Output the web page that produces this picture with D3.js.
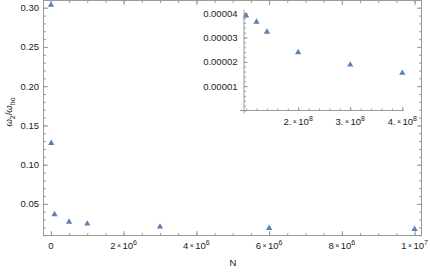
<!DOCTYPE html>
<html><head><meta charset="utf-8">
<script src="https://cdn.jsdelivr.net/npm/d3@7"></script>
<style>
body{margin:0;background:#fff;}
svg{display:block;font-family:"Liberation Sans",Arial,sans-serif;}
.ax path,.ax line{stroke:#9a9a9a;stroke-width:1;}
.ax text{display:none;}
</style></head><body>
<svg id="c" width="430" height="274"></svg>
<script>
// main data
const mainN = [1000, 10000, 100000, 500000, 1000000, 3000000, 6000000, 10000000];
const mainW = [0.3034, 0.1275, 0.0365, 0.0271, 0.0246, 0.0208, 0.0191, 0.0178];
const mainXTicks = [0, 2e6, 4e6, 6e6, 8e6, 1e7];
const mainXLabels = [["0","",""],["2","10","6"],["4","10","6"],["6","10","6"],["8","10","6"],["1","10","7"]];
const mainYTicks = [0.05, 0.10, 0.15, 0.20, 0.25, 0.30];
const mainYLabels = ["0.05","0.10","0.15","0.20","0.25","0.30"];
// inset data
const insetN = [1e8, 1.2e8, 1.4e8, 2e8, 3e8, 4e8];
const insetW = [3.90e-5, 3.64e-5, 3.23e-5, 2.39e-5, 1.88e-5, 1.54e-5];
const insetXTicks = [2e8, 3e8, 4e8];
const insetXLabels = [["2.","10","8"],["3.","10","8"],["4.","10","8"]];
const insetYTicks = [1e-5, 2e-5, 3e-5, 4e-5];
const insetYLabels = ["0.00001","0.00002","0.00003","0.00004"];

const color = "#5e81b5";
const txt = "#222";
const svg = d3.select("#c");

// main scales
const L=43.5, R=421.5, T=0.5, B=235.5;
const x = d3.scaleLinear().domain([-0.2035e6, 10.19e6]).range([L, R]);
const y = d3.scaleLinear().domain([0.0097, 0.3092]).range([B, T]);

const minorX = d3.range(0, 10.01e6, 0.5e6);
const minorY = d3.range(0.01, 0.3001, 0.01);

function ax(g, axis){ g.attr("class","ax").call(axis); g.select(".domain").remove(); }

// frame
svg.append("rect").attr("x",L).attr("y",T).attr("width",R-L).attr("height",B-T)
  .attr("fill","none").attr("stroke","#9a9a9a");

ax(svg.append("g").attr("transform",`translate(0,${B})`), d3.axisBottom(x).tickValues(minorX).tickSize(-2.5).tickFormat(""));
ax(svg.append("g").attr("transform",`translate(0,${B})`), d3.axisBottom(x).tickValues(mainXTicks).tickSize(-4.5).tickFormat(""));
ax(svg.append("g").attr("transform",`translate(0,${T})`), d3.axisTop(x).tickValues(minorX).tickSize(-2.5).tickFormat(""));
ax(svg.append("g").attr("transform",`translate(0,${T})`), d3.axisTop(x).tickValues(mainXTicks).tickSize(-4.5).tickFormat(""));
ax(svg.append("g").attr("transform",`translate(${L},0)`), d3.axisLeft(y).tickValues(minorY).tickSize(-2.5).tickFormat(""));
ax(svg.append("g").attr("transform",`translate(${L},0)`), d3.axisLeft(y).tickValues(mainYTicks).tickSize(-4.5).tickFormat(""));
ax(svg.append("g").attr("transform",`translate(${R},0)`), d3.axisRight(y).tickValues(minorY).tickSize(-2.5).tickFormat(""));
ax(svg.append("g").attr("transform",`translate(${R},0)`), d3.axisRight(y).tickValues(mainYTicks).tickSize(-4.5).tickFormat(""));

function sciLabel(sel, labels){
  sel.append("tspan").text((d,i)=>labels[i][0]);
  sel.append("tspan").attr("font-size",7).attr("dy",-0.5)
    .text((d,i)=>labels[i][1] ? "\u2009\u00d7\u2009" : "");
  sel.append("tspan").attr("dy",0.5).text((d,i)=>labels[i][1]);
  sel.append("tspan").attr("font-size",7).attr("dy",-4).text((d,i)=>labels[i][2]);
}

svg.append("g").selectAll("text").data(mainYTicks).join("text")
  .attr("x", L-4.5).attr("y", d=>y(d)+3.4).attr("text-anchor","end")
  .attr("font-size",9.5).attr("fill",txt).text((d,i)=>mainYLabels[i]);
const xl = svg.append("g").selectAll("text").data(mainXTicks).join("text")
  .attr("x", d=>x(d)).attr("y", 248.5).attr("text-anchor","middle")
  .attr("font-size",9.5).attr("fill",txt);
sciLabel(xl, mainXLabels);

svg.append("text").attr("x",233).attr("y",266).attr("text-anchor","middle")
  .attr("font-size",9.5).attr("fill",txt).text("N");
const yt = svg.append("text").attr("transform","translate(12,112) rotate(-90)")
  .attr("text-anchor","middle").attr("font-size",9.5).attr("fill",txt);
yt.append("tspan").attr("font-style","italic").text("\u03c9");
yt.append("tspan").attr("font-size",7).attr("dy",2.5).text("2");
yt.append("tspan").attr("dy",-2.5).text("/");
yt.append("tspan").attr("font-style","italic").text("\u03c9");
yt.append("tspan").attr("font-size",7).attr("dy",2.5).text("ho");

const tri = d3.symbol().type(d3.symbolTriangle).size(17);
svg.append("g").selectAll("path").data(mainN).join("path")
  .attr("d", tri).attr("fill", color)
  .attr("transform",(d,i)=>`translate(${x(d)},${y(mainW[i])})`);

// inset
const iL=244, iR=403.5, iT=10, iB=110.5;
const ix = d3.scaleLinear().domain([0.9596e8, 4.0231e8]).range([iL, iR]);
const iy = d3.scaleLinear().domain([0, 4.13e-5]).range([iB, iT]);
const iMinorX = d3.range(1e8, 4.01e8, 0.2e8);
const iMinorY = d3.range(0, 4.11e-5, 0.2e-5);

const gx = svg.append("g").attr("class","ax");
gx.append("line").attr("x1",iL-4).attr("x2",iR).attr("y1",iB).attr("y2",iB);
gx.append("line").attr("x1",iL).attr("x2",iL).attr("y1",iB+3).attr("y2",iT);
ax(svg.append("g").attr("transform",`translate(0,${iB})`), d3.axisBottom(ix).tickValues(iMinorX).tickSize(-2).tickFormat(""));
ax(svg.append("g").attr("transform",`translate(0,${iB})`), d3.axisBottom(ix).tickValues(insetXTicks).tickSize(-3.5).tickFormat(""));
ax(svg.append("g").attr("transform",`translate(${iL},0)`), d3.axisLeft(iy).tickValues(iMinorY).tickSize(-2).tickFormat(""));
ax(svg.append("g").attr("transform",`translate(${iL},0)`), d3.axisLeft(iy).tickValues(insetYTicks).tickSize(-3.5).tickFormat(""));

svg.append("g").selectAll("text").data(insetYTicks).join("text")
  .attr("x", iL-6.5).attr("y", d=>iy(d)+3.4).attr("text-anchor","end")
  .attr("font-size",9.5).attr("fill",txt).text((d,i)=>insetYLabels[i]);
const ixl = svg.append("g").selectAll("text").data(insetXTicks).join("text")
  .attr("x", d=>ix(d)).attr("y", 124.5).attr("text-anchor","middle")
  .attr("font-size",9.5).attr("fill",txt);
sciLabel(ixl, insetXLabels);

svg.append("g").selectAll("path").data(insetN).join("path")
  .attr("d", tri).attr("fill", color)
  .attr("transform",(d,i)=>`translate(${ix(d)},${iy(insetW[i])})`);
</script>
</body></html>
